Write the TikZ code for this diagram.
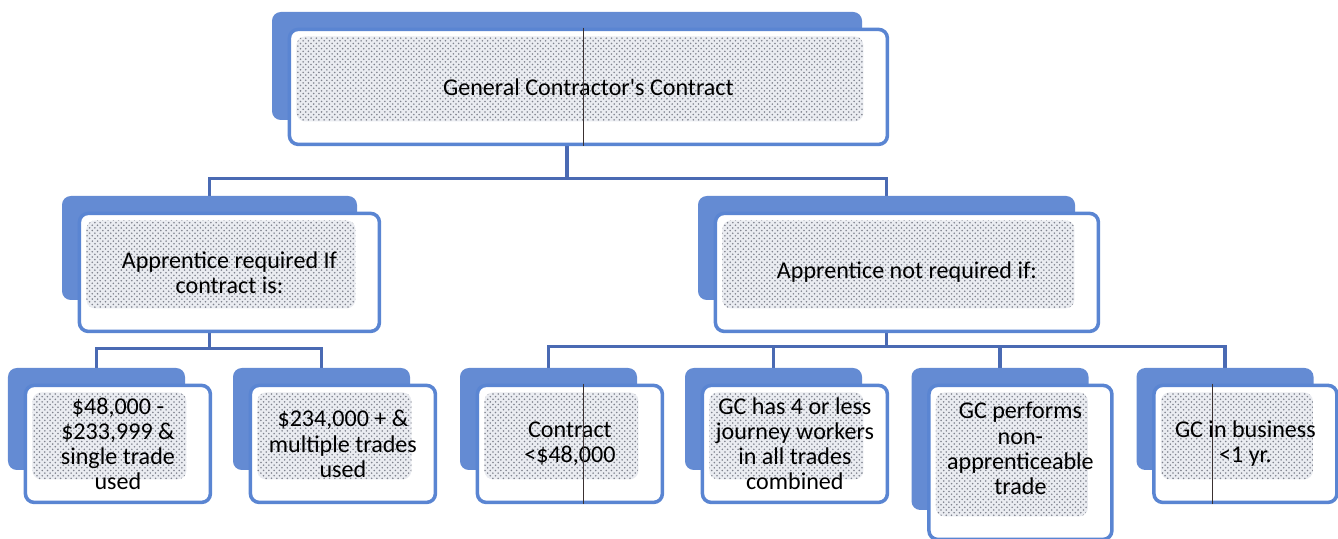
\documentclass[tikz,border=0pt]{standalone}
\usepackage{fontspec}
\setmainfont{Carlito}
\usetikzlibrary{positioning,patterns,backgrounds}
\definecolor{cardblue}{HTML}{648BD3}
\definecolor{edgeblue}{HTML}{5A85D2}
\definecolor{linkblue}{HTML}{4A6AB3}
\definecolor{dotgray}{HTML}{7F838E}
\definecolor{dotbg}{HTML}{EAECF1}
\definecolor{seam}{HTML}{3A3030}
\tikzset{
  backcard/.style={fill=cardblue,rounded corners=5pt,inner sep=0pt},
  card/.style={draw=edgeblue,fill=white,line width=2pt,rounded corners=5pt,
               anchor=north west,align=center,inner sep=2pt,
               font=\fontsize{13.7}{14.3}\selectfont,
               path picture={\path[preaction={fill=dotbg},pattern=crosshatch dots,
                 pattern color=dotgray]
                 ([shift={(0.14,-0.14)}]path picture bounding box.north west) rectangle
                 ([shift={(-0.48,0.46)}]path picture bounding box.south east);}},
  link/.style={draw=linkblue,line width=2pt},
  seamline/.style={draw=seam,line width=0.6pt}
}

\begin{document}
\begin{tikzpicture}[x=1cm,y=1cm]
    \path[use as bounding box] (0,0) rectangle (26.76,-10.78);
    % top level
    \node[backcard,minimum width=11.8cm,minimum height=2.16cm] (gc) at (11.34,-1.32) {};
    \node[card,minimum width=11.96cm,minimum height=2.3cm] (gctxt)
      at ([shift={(0.32,-0.32)}]gc.north west) {General Contractor\textquotesingle s Contract};
    % second level
    \node[backcard,minimum width=5.9cm,minimum height=2.08cm] (req) at (4.19,-4.96) {};
    \node[card,minimum width=6cm,minimum height=2.36cm] (reqtxt)
      at ([shift={(0.32,-0.32)}]req.north west) {Apprentice required If\\contract is:};
    \node[backcard,minimum width=7.54cm,minimum height=2.08cm] (notreq) at (17.73,-4.96) {};
    \node[card,minimum width=7.66cm,minimum height=2.36cm] (notreqtxt)
      at ([shift={(0.32,-0.32)}]notreq.north west) {Apprentice not required if:};
    % bottom row
    \node[backcard,minimum width=3.54cm,minimum height=2.04cm] (r1) at (1.93,-8.38) {};
    \node[card,minimum width=3.7cm,minimum height=2.34cm] (r1txt)
      at ([shift={(0.32,-0.32)}]r1.north west) {\$48,000 -\\\$233,999 \&\\single trade\\used};
    \node[backcard,minimum width=3.54cm,minimum height=2.04cm] (r2) at (6.43,-8.38) {};
    \node[card,minimum width=3.7cm,minimum height=2.34cm] (r2txt)
      at ([shift={(0.32,-0.32)}]r2.north west) {\$234,000 + \&\\multiple trades\\used};
    \node[backcard,minimum width=3.54cm,minimum height=2.04cm] (n1) at (10.97,-8.38) {};
    \node[card,minimum width=3.7cm,minimum height=2.34cm] (n1txt)
      at ([shift={(0.32,-0.32)}]n1.north west) {Contract\\<\$48,000};
    \node[backcard,minimum width=3.54cm,minimum height=2.04cm] (n2) at (15.47,-8.38) {};
    \node[card,minimum width=3.7cm,minimum height=2.34cm] (n2txt)
      at ([shift={(0.32,-0.32)}]n2.north west) {GC has 4 or less\\journey workers\\in all trades\\combined};
    \node[backcard,minimum width=3.54cm,minimum height=2.84cm] (n3) at (20,-8.78) {};
    \node[card,minimum width=3.66cm,minimum height=3.08cm] (n3txt)
      at ([shift={(0.32,-0.32)}]n3.north west) {GC performs\\non-\\apprenticeable\\trade\\[0.06cm]\mbox{}};
    \node[backcard,minimum width=3.54cm,minimum height=2.04cm] (n4) at (24.5,-8.38) {};
    \node[card,minimum width=3.66cm,minimum height=2.34cm] (n4txt)
      at ([shift={(0.32,-0.32)}]n4.north west) {GC in business\\<1 yr.};
    % connectors
    \begin{scope}[on background layer]
      \draw[link] (gc.south) -- ++(0,-1.16) -| (req.north);
      \draw[link] (gc.south) -- ++(0,-1.16) -| (notreq.north);
      \draw[link] (req.south) -- ++(0,-0.96) -| (r1.north);
      \draw[link] (req.south) -- ++(0,-0.96) -| (r2.north);
      \foreach \kid in {n1,n2,n3,n4}
        \draw[link] (notreq.south) -- ++(0,-0.92) -| (\kid.north);
    \end{scope}
    % scan seams
    \draw[seamline] ([xshift=-0.1cm]gctxt.north) -- ([xshift=-0.1cm]gctxt.south);
    \draw[seamline] ([xshift=0.27cm]n1txt.north) -- ([xshift=0.27cm]n1txt.south);
    \draw[seamline] ([xshift=-0.66cm]n4txt.north) -- ([xshift=-0.66cm]n4txt.south);
  \end{tikzpicture}
\end{document}
